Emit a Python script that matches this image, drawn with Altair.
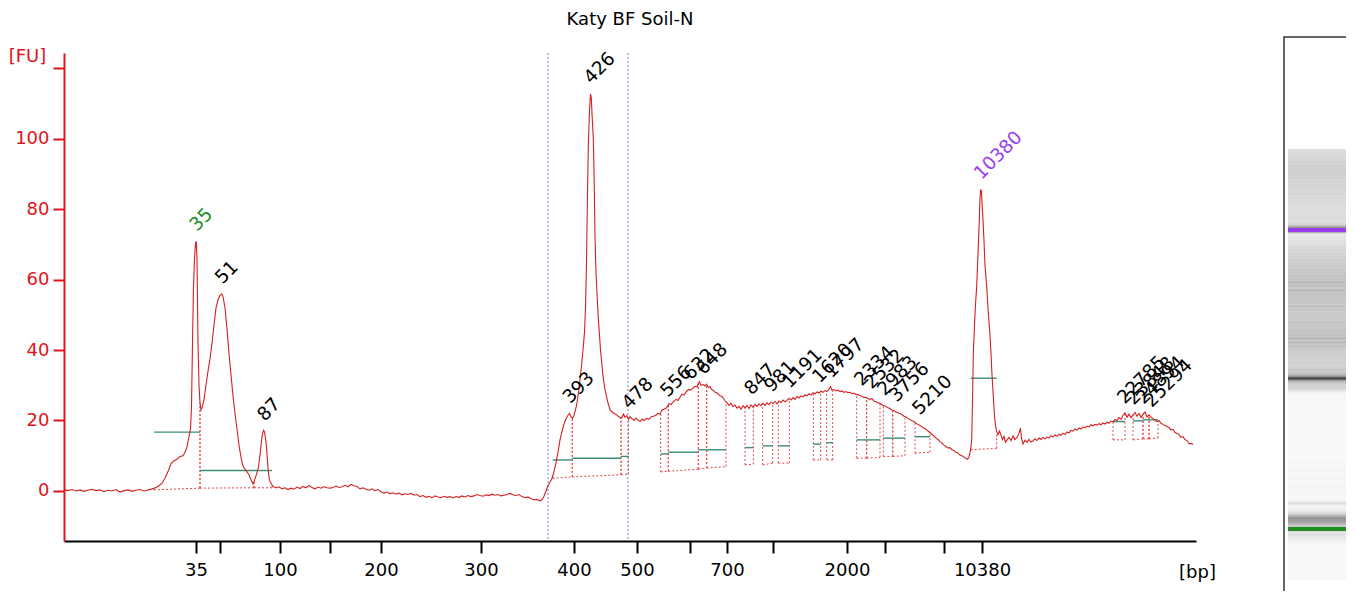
import altair as alt
import pandas as pd
import numpy as np

TITLE = "Katy BF Soil-N"
FONT = "DejaVu Sans"
RED = "#e0141c"

# ---- electropherogram trace (migration position, fluorescence units) ----
trace_pos = [64, 68, 72, 76, 80, 84, 88, 92, 96, 100, 104, 108, 112, 116, 120, 124, 128, 132, 136, 140,
             144, 148, 152, 156, 159, 162, 165, 168, 171, 174, 177, 180, 183, 185, 187, 189, 190.5, 191.5,
             192.5, 193.5, 194.5, 195.5, 196.2, 197, 198, 199, 200, 201, 202, 204, 206, 208, 210, 212, 214,
             216, 218, 220, 221.7, 223, 225, 227, 229, 231, 233, 235, 237, 239, 241, 243, 245, 247, 249, 251,
             253, 254.5, 256.5, 258.5, 260.5, 262, 263.5, 264.5, 265.5, 266.5, 267.5, 268.5, 269.5, 271, 273,
             276, 279, 282, 285, 288, 291, 294, 297, 300, 303, 306, 309, 312, 315, 318, 321, 324, 327, 330,
             333, 336, 339, 342, 345, 348, 351, 354, 357, 360, 363, 366, 369, 372, 375, 378, 381, 384, 387,
             390, 393, 396, 399, 402, 405, 408, 411, 414, 417, 420, 423, 426, 429, 432, 435, 438, 441, 444,
             447, 450, 453, 456, 459, 462, 465, 468, 471, 474, 477, 480, 483, 486, 489, 492, 495, 498, 501,
             504, 507, 510, 513, 516, 519, 522, 525, 528, 531, 534, 537, 540, 542, 544, 546, 548, 550, 552,
             554, 556, 558, 560, 562, 564, 566, 568, 569.5, 571, 572.5, 574, 575.5, 577, 578.5, 580, 581.5,
             583, 584.5, 585.5, 586.5, 587.5, 588.5, 589.5, 590.5, 591.3, 592.2, 593.3, 594.2, 595, 596,
             597.2, 598.3, 599.3, 600.5, 601.7, 603.3, 605, 607.5, 610, 613, 616.7, 619, 621.7, 623.5, 625,
             626.7, 628.5, 630, 631.7, 634, 636, 638, 640, 642, 644, 646.7, 649, 651, 653.3, 656, 658, 660,
             662, 664, 666.7, 669, 671, 673.3, 676, 678, 680, 682, 684, 686.7, 689, 691, 693.3, 695, 697,
             698.3, 699.5, 701, 703.3, 705, 706.7, 708.3, 710, 711.7, 713.3, 715, 717, 720, 722, 725, 727,
             729, 731, 733, 735, 737, 739, 741, 743, 745, 747, 749, 751, 753, 755, 757, 759, 761, 763, 765,
             767, 769, 771, 773, 775, 777, 779, 781, 783, 785, 787, 789, 791, 793, 795, 797, 799, 801, 803,
             805, 807, 809, 811, 813, 815, 817, 819, 821, 823, 825, 827, 829, 830.5, 832, 834, 836, 838, 840,
             842, 844, 846, 848, 850, 852, 854, 856, 858, 860, 862, 864, 866, 868, 870, 872, 874, 876, 878,
             880, 882, 884, 886, 888, 890, 892, 894, 896, 898, 900, 902, 904, 906, 908, 910, 912, 914, 916,
             918, 920, 922, 924, 926, 928, 930, 932, 934, 936, 938, 940, 942, 944, 946, 948, 950, 952, 954,
             956, 958, 960, 962, 964, 966, 967.5, 969, 970.5, 971.7, 972.5, 973.3, 974.5, 975.5, 976.7,
             977.8, 979.3, 980, 980.7, 981.5, 982.3, 983, 984, 985, 986.7, 988, 989, 990, 991, 992, 993.3,
             994.5, 995.5, 996.7, 998, 999.5, 1001, 1002.5, 1004, 1005.5, 1007, 1009, 1011, 1013, 1015, 1017,
             1019, 1020.5, 1021.5, 1023, 1025, 1027, 1029, 1031, 1033, 1035, 1037, 1039, 1041, 1043, 1045,
             1047, 1049, 1051, 1053, 1055, 1057, 1059, 1061, 1063, 1065, 1067, 1069, 1071, 1073, 1075, 1077,
             1079, 1081, 1083, 1085, 1087, 1089, 1091, 1093, 1095, 1097, 1099, 1101, 1103, 1105, 1107, 1109,
             1111, 1113, 1115, 1117, 1119, 1121, 1123, 1125, 1127, 1129, 1131, 1133, 1135, 1137, 1139, 1141,
             1143, 1145, 1147, 1149, 1151, 1153, 1155, 1157, 1159, 1161, 1163, 1165, 1167, 1169, 1171, 1173,
             1175, 1177, 1179, 1181, 1183, 1185, 1187, 1189, 1191, 1193]
trace_fu = [0.3, 0.1, 0.4, 0.0, 0.3, -0.1, 0.2, 0.5, 0.1, 0.3, -0.2, 0.2, 0.0, 0.4, -0.3, 0.1, 0.3, -0.1, 0.2, 0.4,
            0.0, 0.3, 0.6, 1.0, 1.5, 2.2, 3.6, 5.5, 7.8, 8.6, 9.0, 9.8, 10.0, 11.0, 12.5, 15.5, 17.5, 24.0,
            42.0, 58.0, 66.0, 70.2, 70.9, 66.0, 42.0, 30.0, 25.0, 23.0, 23.5, 26.0, 30.0, 34.0, 37.5, 42.0, 47.0,
            52.0, 54.2, 55.5, 55.9, 55.2, 52.0, 46.0, 39.0, 33.0, 27.0, 22.0, 17.5, 13.0, 9.5, 7.0, 6.2, 5.4, 4.6, 3.2,
            2.0, 3.0, 4.8, 6.8, 11.5, 15.5, 17.2, 16.8, 15.0, 12.5, 8.5, 5.0, 3.0, 2.2, 1.3,
            0.9, 1.2, 0.6, 0.9, 0.4, 0.8, 0.5, 1.1, 0.7, 1.3, 0.9, 1.6, 1.0, 0.6, 1.1, 0.8, 1.2, 0.9, 0.8,
            1.0, 1.4, 1.0, 1.2, 1.6, 1.2, 1.9, 1.5, 1.3, 0.6, 0.9, 0.5, 0.2, 0.6, 0.1, 0.4, -0.2, -0.6, -0.3,
            -0.8, -0.5, -0.9, -0.6, -1.1, -0.8, -1.0, -0.7, -1.2, -1.0, -1.6, -1.3, -1.8, -1.5, -1.9, -1.4, -1.7, -1.9, -1.5,
            -1.8, -1.6, -2.0, -1.6, -1.8, -1.4, -1.7, -1.3, -1.6, -1.4, -1.0, -1.3, -1.5, -1.1, -1.3, -0.9, -1.2, -1.0, -1.4,
            -1.2, -1.0, -0.7, -1.1, -1.3, -1.0, -1.6, -1.9, -1.7, -2.2, -2.5, -2.4, -2.8, -2.5, -1.5, 0.0, 1.5, 2.5, 3.6,
            5.5, 8.0, 11.0, 14.5, 17.0, 19.0, 20.5, 21.5, 22.0, 21.0, 20.6, 21.5, 23.0, 25.0, 28.0, 31.6, 35.5,
            40.0, 45.0, 52.0, 65.0, 85.0, 100.0, 108.0, 112.7, 111.5, 106.0, 100.0, 88.0, 72.0, 62.0,
            55.0, 49.0, 45.0, 40.0, 36.4, 32.0, 28.7, 25.5, 23.0, 22.2, 21.6, 21.0, 20.7, 21.8, 20.9,
            21.4, 20.4, 21.1, 20.6, 20.0, 20.7, 20.2, 19.7, 20.4, 20.0, 20.6, 20.3, 21.0, 21.2, 21.5, 22.0, 21.8,
            23.0, 23.2, 23.6, 24.8, 24.5, 25.3, 26.0, 25.7, 26.6, 27.5, 27.2, 28.3, 28.8, 28.6, 29.3, 29.7, 29.5,
            30.5, 31.0, 30.0, 30.2, 29.8, 30.3, 29.4, 29.6, 28.8, 28.6, 28.0, 27.8, 27.0, 26.8, 25.6, 25.0,
            24.3, 24.9, 23.9, 24.4, 23.5, 24.0, 23.2, 24.2, 23.6, 24.3, 23.4, 24.4, 23.8, 24.6, 24.0, 24.7, 24.2, 24.9, 24.3,
            25.0, 24.5, 25.2, 24.8, 25.4, 24.7, 25.5, 25.1, 25.8, 25.3, 25.7, 26.3, 25.8, 26.5, 26.0, 26.8, 26.4, 27.0, 26.7,
            27.3, 27.0, 27.6, 27.2, 27.9, 27.6, 28.1, 27.8, 28.3, 28.0, 28.5, 28.2, 28.9, 29.6, 28.6, 28.8, 28.4, 28.6, 28.2,
            28.4, 28.0, 28.2, 27.9, 28.0, 27.6, 27.8, 27.3, 27.4, 27.0, 26.9, 26.5, 26.6, 26.2, 26.0, 26.2, 25.5, 25.3, 25.0,
            24.9, 24.4, 24.2, 24.0, 23.6, 23.4, 23.0, 22.8, 22.4, 22.2, 21.9, 21.7, 21.2, 21.0, 20.6, 20.3, 19.9, 19.7, 19.2,
            18.9, 18.6, 18.2, 17.8, 17.5, 17.0, 16.6, 16.1, 15.6, 15.0, 14.6, 14.0, 13.6, 13.0, 12.6, 12.2, 12.3, 11.7, 11.5,
            10.9, 10.8, 10.2, 10.0, 9.6, 9.2, 9.0, 9.6, 11.5, 14.5, 25.0, 39.0, 47.0, 53.0, 58.0,
            66.0, 77.0, 83.0, 85.6, 85.0, 80.0, 77.0, 71.0, 64.0, 58.0, 52.0, 48.0, 44.0, 39.0, 33.0, 26.8,
            21.5, 18.5, 16.9, 16.0, 17.0, 15.9, 14.6, 15.5, 13.8, 14.5, 15.2, 14.3, 15.6, 14.6, 15.1,
            16.4, 17.8, 14.9, 13.3, 14.4, 13.8, 14.6, 13.9, 14.2, 14.8, 14.3, 15.0, 14.6, 15.2, 14.8,
            15.3, 15.0, 15.7, 15.3, 15.9, 15.5, 16.1, 15.8, 16.4, 16.0, 16.7, 16.5, 17.2, 17.0, 17.6, 17.3,
            17.9, 17.6, 18.2, 17.9, 18.4, 18.2, 18.8, 18.5, 18.9, 18.7, 19.1, 18.8, 19.3, 19.0, 19.5, 19.2,
            19.8, 19.6, 20.3, 20.0, 20.8, 20.3, 21.5, 22.2, 20.9, 21.8, 20.8, 21.6, 22.3, 21.2, 22.0, 20.9,
            21.8, 22.4, 21.0, 21.6, 20.9, 20.6, 20.1, 19.7, 20.0, 19.2, 18.9, 18.6, 18.3, 18.0, 17.3, 17.5,
            16.6, 16.3, 16.0, 15.2, 15.4, 14.6, 14.3, 13.4, 13.5, 13.2]

# ---- size ladder (axis ticks) ----
ladder_bp = [35, 50, 100, 150, 200, 300, 400, 500, 600, 700, 1000, 2000, 3000, 7000, 10380]
ladder_pos = [196, 220, 280, 330, 381, 481, 574, 637, 690, 727, 773, 847, 885, 944, 982]
ladder_shown = [35, 100, 200, 300, 400, 500, 700, 2000, 10380]

# ---- peak integration windows ----
win_start = [154, 200, 254, 552.7, 572.3, 621, 660.7, 668.3, 698.3, 706.7, 745, 762.7, 778.3, 813.3,
             826.7, 856.7, 866.7, 883.3, 892.7, 915, 970.7, 1113, 1133, 1143, 1149]
win_end = [200, 254, 272, 572.3, 621, 628.3, 668.3, 698.3, 706.7, 726, 753.3, 772.7, 789.3, 820.7,
           832.7, 866.7, 880, 892.7, 905, 930, 996.7, 1125, 1143, 1149, 1158]
win_base_start = [0.3, 0.8, 0.9, 3.6, 4.0, 4.6, 5.4, 5.6, 6.2, 6.5, 7.4, 7.4, 7.9, 8.8, 8.8, 9.3, 9.3,
                  9.8, 9.8, 10.7, 11.7, 14.5, 14.5, 14.8, 14.8]
win_base_end = [0.8, 0.9, 0.9, 4.0, 4.6, 4.8, 5.6, 6.2, 6.5, 6.9, 7.6, 7.9, 7.9, 8.8, 8.8, 9.3, 9.5,
                9.8, 10.0, 11.0, 12.1, 14.5, 14.8, 14.8, 15.0]
win_half = [16.7, 5.8, 5.8, 8.8, 9.3, 9.8, 10.5, 11.0, 11.7, 11.7, 12.3, 12.8, 12.8, 13.3, 13.7, 14.5,
            14.5, 15.0, 15.0, 15.4, 32.0, 19.7, 19.9, 20.2, 20.2]

# ---- peak labels ----
label_text = ["35", "51", "87", "393", "426", "478", "556", "632", "648", "847", "981", "1191", "1620",
              "1797", "2334", "2532", "2983", "3756", "5210", "10380", "22785", "23848", "24894", "25294"]
label_pos = [196.2, 221.7, 264, 569.5, 590.5, 628.5, 667, 690, 703, 751, 771, 789, 819, 831, 861, 871,
             884, 896, 919, 980.7, 1124, 1133, 1143, 1151]
label_color = ["#1e8c1e", "black", "black", "black", "black", "black", "black", "black", "black", "black",
               "black", "black", "black", "black", "black", "black", "black", "black", "black", "#9a3cf0",
               "black", "black", "black", "black"]

region_bounds = [548, 628]
marker_pos = [196.2, 980.7]
marker_color = ["#1e8c1e", "#9a3cf0"]

# ---------------------------------------------------------------
trace_df = pd.DataFrame({"t": trace_pos, "fu": trace_fu})


def trace_at(x):
    return np.interp(x, trace_pos, trace_fu)


vert_rows = []
for s, e, bs, be in zip(win_start, win_end, win_base_start, win_base_end):
    vert_rows.append({"t": s, "fu": bs, "fu2": float(trace_at(s))})
    vert_rows.append({"t": e, "fu": be, "fu2": float(trace_at(e))})
vert_df = pd.DataFrame(vert_rows)
win_df = pd.DataFrame({"t": win_start, "t2": win_end, "fu": win_base_start, "fu2": win_base_end,
                       "half": win_half})
label_df = pd.DataFrame({"t": label_pos, "fu": trace_at(label_pos), "text": label_text, "col": label_color})
region_df = pd.DataFrame({"t": region_bounds})
marker_df = pd.DataFrame({"t": marker_pos, "col": marker_color})

x_domain = [64, 1196]
y_domain = [-14.2, 124.3]

lbl_arr = "[" + ",".join("'%s'" % (str(b) if b in ladder_shown else "") for b in ladder_bp) + "]"
pos_arr = "[" + ",".join(str(p) for p in ladder_pos) + "]"

x_axis = alt.Axis(values=ladder_pos, labelExpr=f"{lbl_arr}[indexof({pos_arr}, datum.value)]",
                  title="[bp]", titleX=1133, titleY=31, titleAlign="center", titleBaseline="middle",
                  titleFont=FONT, titleFontSize=18, titleFontWeight="normal", titleColor="black",
                  labelFont=FONT, labelFontSize=18, labelColor="black", labelPadding=8,
                  labelOverlap=False, labelFlush=False,
                  domainColor="black", domainWidth=2, tickColor="black", tickWidth=2, tickSize=12,
                  grid=False)
y_axis = alt.Axis(values=[0, 20, 40, 60, 80, 100, 120],
                  labelExpr="datum.value == 120 ? '' : datum.label",
                  title="[FU]", titleAngle=0, titleX=-37, titleY=3, titleAlign="center",
                  titleBaseline="middle", titleFont=FONT, titleFontSize=18, titleFontWeight="normal",
                  titleColor=RED, labelFont=FONT, labelFontSize=18, labelColor=RED, labelPadding=4,
                  labelOverlap=False, labelFlush=False,
                  domainColor=RED, domainWidth=2, tickColor=RED, tickWidth=2, tickSize=11, grid=False)


def xs():
    return alt.Scale(domain=x_domain, nice=False, zero=False)


def ys():
    return alt.Scale(domain=y_domain, nice=False, zero=False)


trace = alt.Chart(trace_df).mark_line(color="#d42020", strokeWidth=1.1).encode(
    x=alt.X("t:Q", scale=xs(), axis=x_axis),
    y=alt.Y("fu:Q", scale=ys(), axis=y_axis),
)

regions = alt.Chart(region_df).mark_rule(color="#7b7bd0", strokeDash=[2, 2], strokeWidth=1).encode(
    x=alt.X("t:Q", scale=xs(), axis=None)
)

verts = alt.Chart(vert_df).mark_rule(color="#e04848", strokeDash=[2, 2], strokeWidth=1).encode(
    x=alt.X("t:Q", scale=xs(), axis=None),
    y=alt.Y("fu:Q", scale=ys(), axis=None),
    y2="fu2:Q",
)

bases = alt.Chart(win_df).mark_rule(color="#e04848", strokeDash=[2, 2], strokeWidth=1).encode(
    x=alt.X("t:Q", scale=xs(), axis=None),
    x2="t2:Q",
    y=alt.Y("fu:Q", scale=ys(), axis=None),
    y2="fu2:Q",
)

halves = alt.Chart(win_df).mark_rule(color="#3c8c78", strokeWidth=1.4).encode(
    x=alt.X("t:Q", scale=xs(), axis=None),
    x2="t2:Q",
    y=alt.Y("half:Q", scale=ys(), axis=None),
)

labels = alt.Chart(label_df).mark_text(angle=315, align="left", baseline="alphabetic", dx=7, dy=-6,
                                       font=FONT, fontSize=18.5).encode(
    x=alt.X("t:Q", scale=xs(), axis=None),
    y=alt.Y("fu:Q", scale=ys(), axis=None),
    text="text:N",
    color=alt.Color("col:N", scale=None),
)

# ---- gel-like lane on the right, driven by the same trace ----
gel_y = alt.Scale(domain=x_domain, range=[526.3, 95], nice=False, zero=False)
frame = alt.Chart(pd.DataFrame({"k": [0]})).mark_rect(fill="white", stroke="#333333", strokeWidth=1.5).encode(
    x=alt.value(1220), x2=alt.value(1320), y=alt.value(-16), y2=alt.value(600)
)
gel = alt.Chart(trace_df).transform_window(
    t_next="lead(t)", sort=[alt.SortField("t")]
).transform_filter("datum.t_next != null").mark_rect().encode(
    x=alt.value(1224), x2=alt.value(1290),
    y=alt.Y("t:Q", scale=gel_y, axis=None),
    y2="t_next:Q",
    color=alt.Color("fu:Q", scale=alt.Scale(domain=[0, 56, 112], range=["#f7f7f7", "#767676", "#000000"],
                                            clamp=True), legend=None),
)
markers = alt.Chart(marker_df).mark_rule(strokeWidth=4).encode(
    x=alt.value(1224), x2=alt.value(1290),
    y=alt.Y("t:Q", scale=gel_y, axis=None),
    color=alt.Color("col:N", scale=None),
)

chart = alt.layer(regions, verts, bases, halves, trace, labels, frame, gel, markers).resolve_scale(
    x="independent", y="independent", color="independent"
).properties(
    width=1132, height=488,
    padding={"left": 56, "top": 45, "right": 150, "bottom": 50},
    autosize=alt.AutoSizeParams(type="none"),
    title=alt.TitleParams(TITLE, font=FONT, fontSize=18, fontWeight="normal", color="black",
                          anchor="middle", offset=7),
    background="white",
).configure_view(stroke=None)

chart.save("out.html", embed_options={"renderer": "svg", "actions": False})
